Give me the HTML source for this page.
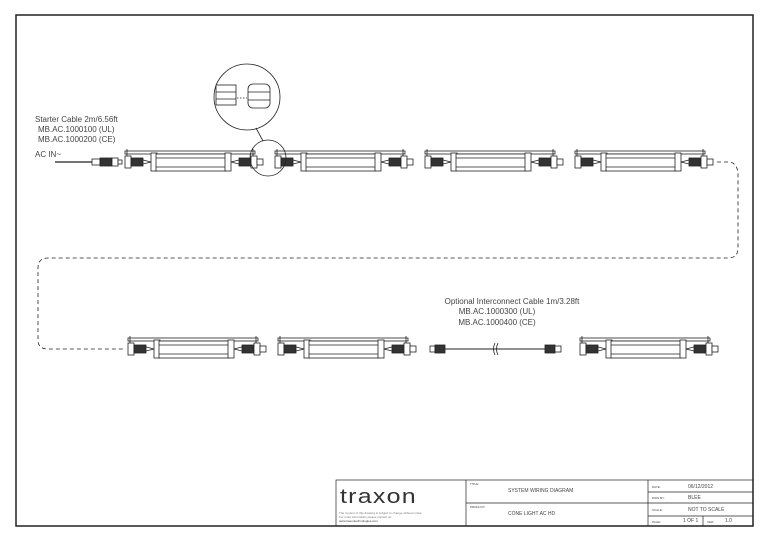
<!DOCTYPE html>
<html><head><meta charset="utf-8"><style>
html,body{margin:0;padding:0;background:#fff}
svg{display:block}
text{font-family:"Liberation Sans",sans-serif;fill:#444}
</style></head><body>
<svg width="768" height="544" viewBox="0 0 768 544" xmlns="http://www.w3.org/2000/svg">
<defs>
<g id="fx" stroke="#222" fill="none" stroke-width="0.8">
  <rect x="0" y="-11" width="130" height="3" fill="#fff"/>
  <line x1="2" y1="-13" x2="2" y2="-6"/><line x1="128" y1="-13" x2="128" y2="-6"/>
  <rect x="26" y="-9" width="6" height="18" fill="#fff"/>
  <rect x="31" y="-8" width="70" height="17" fill="#fff"/>
  <line x1="31" y1="-4" x2="101" y2="-4"/><line x1="31" y1="5" x2="101" y2="5"/>
  <rect x="100" y="-9" width="6" height="18" fill="#fff"/>
  <rect x="0" y="-6" width="6" height="12" fill="#fff"/>
  <rect x="6" y="-4" width="12" height="8" fill="#333"/>
  <line x1="18" y1="-2" x2="26" y2="0"/><line x1="18" y1="2" x2="26" y2="0"/>
  <line x1="106" y1="0" x2="114" y2="-2"/><line x1="106" y1="0" x2="114" y2="2"/>
  <rect x="114" y="-4" width="12" height="8" fill="#333"/>
  <rect x="126" y="-6" width="6" height="12" fill="#fff"/>
  <rect x="132" y="-3" width="6" height="6" fill="#fff"/>
</g>
</defs>
<rect x="16" y="15" width="737" height="511" fill="none" stroke="#222" stroke-width="1.5"/>
<!-- row 1 -->
<use href="#fx" x="125" y="162"/>
<use href="#fx" x="275" y="162"/>
<use href="#fx" x="425" y="162"/>
<use href="#fx" x="575" y="162"/>
<!-- starter cable -->
<g stroke="#222" stroke-width="0.8" fill="none">
<line x1="55" y1="162" x2="92" y2="162" stroke-width="1.2"/>
<rect x="92" y="159" width="8" height="6" fill="#fff"/>
<rect x="100" y="158" width="12" height="8" fill="#333"/>
<rect x="112" y="158" width="6" height="8" fill="#fff"/>
<rect x="118" y="160" width="4" height="4" fill="#fff"/>
</g>
<text x="35" y="122" font-size="8">Starter Cable 2m/6.56ft</text>
<text x="38" y="132" font-size="8">MB.AC.1000100 (UL)</text>
<text x="38" y="142" font-size="8">MB.AC.1000200 (CE)</text>
<text x="35" y="157" font-size="8">AC IN~</text>
<!-- detail circles -->
<g stroke="#222" stroke-width="0.8" fill="none">
<circle cx="247" cy="97" r="33"/>
<circle cx="268" cy="158" r="18"/>
<line x1="256" y1="128" x2="263" y2="141"/>
<rect x="216" y="85" width="20" height="20" fill="#fff"/>
<line x1="216" y1="92" x2="236" y2="92"/><line x1="216" y1="99" x2="236" y2="99"/>
<rect x="248" y="84" width="22" height="24" rx="5" fill="#fff"/>
<line x1="248" y1="92" x2="270" y2="92"/><line x1="248" y1="100" x2="270" y2="100"/>
<line x1="237" y1="98" x2="247" y2="98" stroke-dasharray="1.5 1.5"/>
</g>
<!-- dashed return -->
<path d="M717,162 L730,162 Q738,164 738,175 L738,248 Q738,258 728,258 L48,258 Q38,258 38,268 L38,340 Q38,349 48,349 L124,349" fill="none" stroke="#222" stroke-width="0.8" stroke-dasharray="4 3"/>
<!-- row 2 -->
<use href="#fx" x="128" y="349"/>
<use href="#fx" x="278" y="349"/>
<use href="#fx" x="580" y="349"/>
<g stroke="#222" stroke-width="0.8" fill="none">
<rect x="430" y="346" width="5" height="6" fill="#fff"/>
<rect x="435" y="345" width="10" height="8" fill="#333"/>
<line x1="445" y1="349" x2="560" y2="349" stroke-width="1.1"/>
<path d="M495,343 Q492,349 495,355 M498,343 Q495,349 498,355"/>
<rect x="545" y="345" width="10" height="8" fill="#333"/>
<rect x="555" y="346" width="6" height="6" fill="#fff"/>
</g>
<text x="512" y="304" font-size="8" text-anchor="middle">Optional Interconnect Cable 1m/3.28ft</text>
<text x="497" y="314" font-size="8" text-anchor="middle">MB.AC.1000300 (UL)</text>
<text x="497" y="325" font-size="8" text-anchor="middle">MB.AC.1000400 (CE)</text>
<!-- title block -->
<g stroke="#222" stroke-width="0.7" fill="none">
<rect x="336" y="480" width="417" height="46"/>
<line x1="466" y1="480" x2="466" y2="526"/>
<line x1="466" y1="503" x2="648" y2="503"/>
<line x1="648" y1="480" x2="648" y2="526"/>
<line x1="648" y1="492" x2="753" y2="492"/>
<line x1="648" y1="503" x2="753" y2="503"/>
<line x1="648" y1="516" x2="753" y2="516"/>
<line x1="703" y1="516" x2="703" y2="526"/>
</g>
<text x="340" y="503" font-size="20" transform="translate(340 0) scale(1.25 1) translate(-340 0)" style="fill:#333;font-weight:normal;letter-spacing:1px">traxon</text>
<text x="339" y="514" font-size="3" style="fill:#777">The content of this drawing is subject to change without notice.</text>
<text x="339" y="518" font-size="3" style="fill:#777">For more information please contact us.</text>
<text x="339" y="522" font-size="3" style="fill:#333">www.traxontechnologies.com</text>
<text x="470" y="485" font-size="3">TITLE:</text>
<text x="508" y="492" font-size="5">SYSTEM WIRING DIAGRAM</text>
<text x="470" y="508" font-size="3">PRODUCT:</text>
<text x="508" y="515" font-size="5">CONE LIGHT AC HD</text>
<text x="652" y="488" font-size="3">DATE:</text><text x="688" y="488" font-size="5">06/12/2012</text>
<text x="652" y="499" font-size="3">DWN BY:</text><text x="688" y="499" font-size="5">BLEE</text>
<text x="652" y="511" font-size="3">SCALE:</text><text x="688" y="511" font-size="5">NOT TO SCALE</text>
<text x="652" y="523" font-size="3">PAGE:</text><text x="683" y="522" font-size="5">1 OF 1</text>
<text x="707" y="523" font-size="3">VER:</text><text x="725" y="522" font-size="5">1.0</text>
</svg>
</body></html>
